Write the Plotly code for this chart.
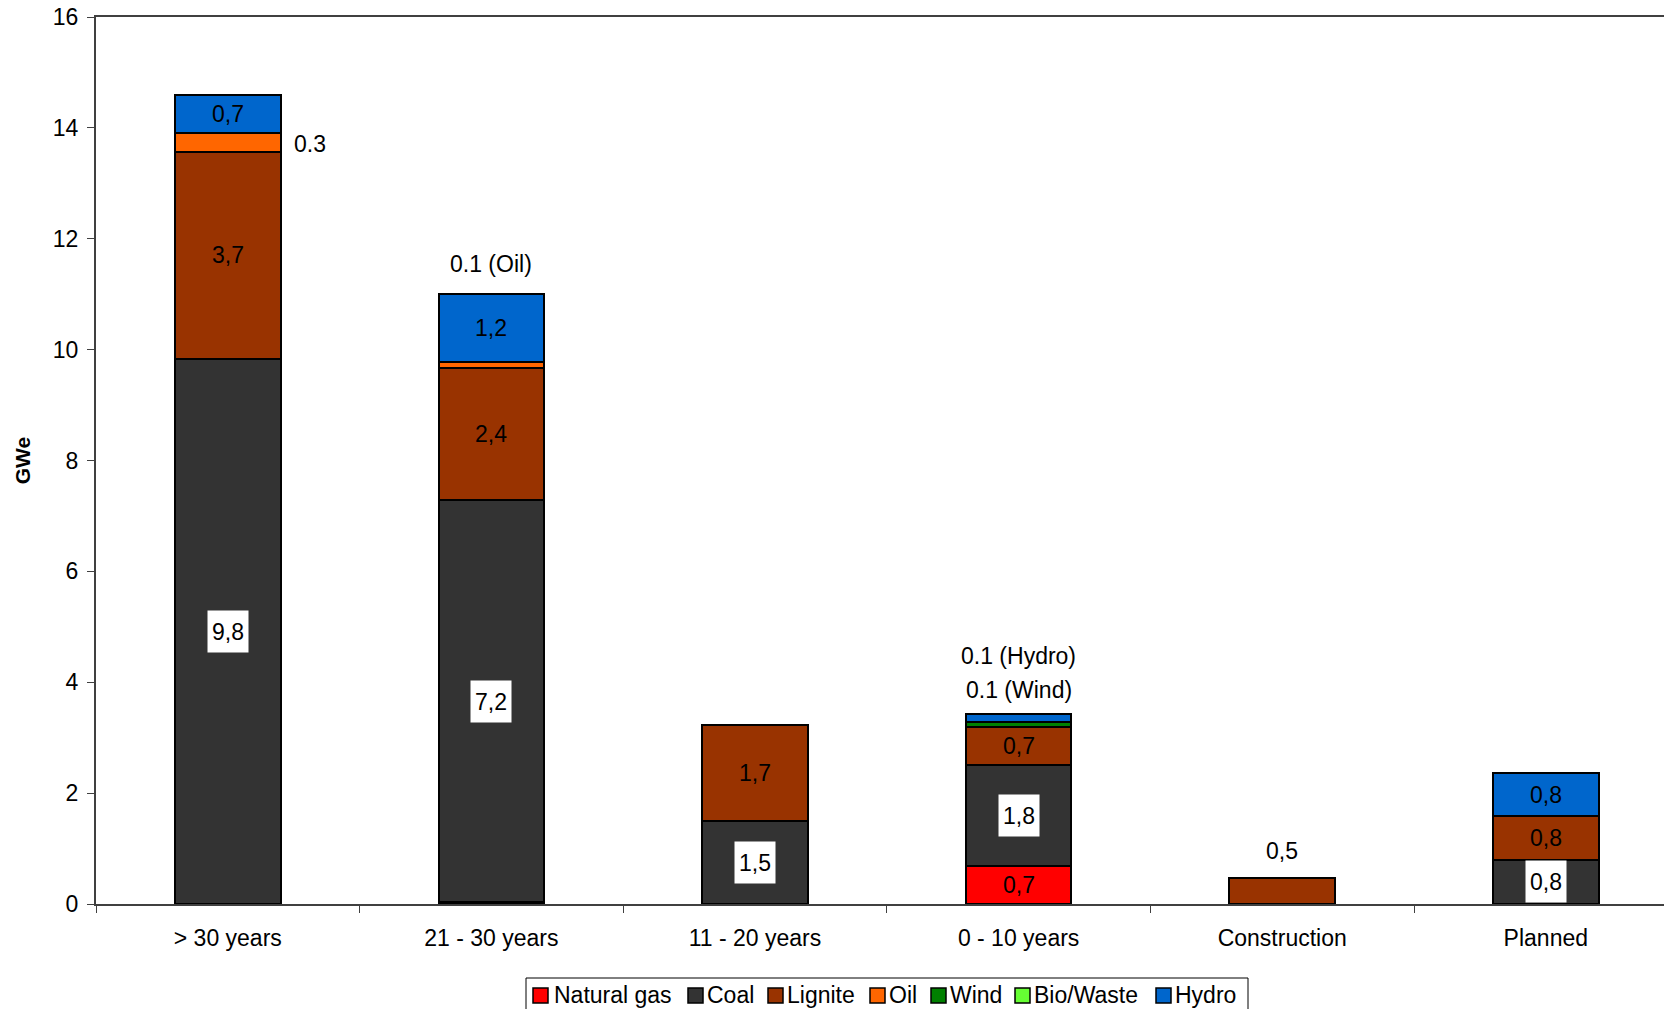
import plotly.graph_objects as go

# ---- data (GWe) -------------------------------------------------------------
categories = ["> 30 years", "21 - 30 years", "11 - 20 years",
              "0 - 10 years", "Construction", "Planned"]

natural_gas = [0, 0.04, 0, 0.69, 0, 0]
coal = [9.83, 7.24, 1.49, 1.82, 0, 0.80]
lignite = [3.74, 2.38, 1.73, 0.69, 0.47, 0.79]
oil = [0.34, 0.11, 0, 0, 0, 0]
wind = [0, 0, 0, 0.08, 0, 0]
bio_waste = [0, 0, 0, 0, 0, 0]
hydro = [0.69, 1.23, 0, 0.14, 0, 0.77]

series_names = ["Natural gas", "Coal", "Lignite", "Oil", "Wind", "Bio/Waste", "Hydro"]
y_ticks = [0, 2, 4, 6, 8, 10, 12, 14, 16]

# small segments annotated outside the bars: (category index, series, template, placement)
outside_notes = [
    (0, "Oil", "{:.1f}", "right"),
    (1, "Oil", "{:.1f} (Oil)", "above"),
    (3, "Wind", "{:.1f} (Wind)", "above"),
    (3, "Hydro", "{:.1f} (Hydro)", "above2"),
    (4, "Lignite", "{}", "above"),
]

# ---- styling ----------------------------------------------------------------
series_values = [natural_gas, coal, lignite, oil, wind, bio_waste, hydro]
colors = {
    "Natural gas": "#FF0000",
    "Coal": "#333333",
    "Lignite": "#993300",
    "Oil": "#FF6600",
    "Wind": "#008000",
    "Bio/Waste": "#66FF33",
    "Hydro": "#0066CC",
}
FONT = "Liberation Sans, Arial, sans-serif"
FS = 23
W, H = 1664, 1009
L, R, T, B = 96, 0, 17, 105
BAR_WIDTH = 0.4


def paper_x(px):
    return (px - L) / (W - L - R)


def paper_y(py):
    return (H - B - py) / (H - T - B)


def comma(v):
    return f"{v:.1f}".replace(".", ",")


fig = go.Figure()
for name, vals in zip(series_names, series_values):
    fig.add_trace(go.Bar(
        x=categories,
        y=[v if v else None for v in vals],
        name=name,
        width=BAR_WIDTH,
        marker=dict(color=colors[name], line=dict(color="#000000", width=2)),
        showlegend=False,
        hoverinfo="x+y+name",
    ))

annotations = []
shapes = []

# value labels centred in each segment
bases = [0.0] * len(categories)
mids = {}
for name, vals in zip(series_names, series_values):
    for i, v in enumerate(vals):
        mids[(i, name)] = (bases[i] + v / 2.0, v)
        bases[i] += v
totals = bases[:]

for name, vals in zip(series_names, series_values):
    for i, v in enumerate(vals):
        if v >= 0.5 and not (name == "Lignite" and categories[i] == "Construction"):
            y_mid = mids[(i, name)][0]
            a = dict(x=categories[i], y=y_mid, xref="x", yref="y",
                     text=comma(v), showarrow=False,
                     font=dict(family=FONT, size=FS, color="#000000"))
            if name == "Coal":
                a.update(bgcolor="#FFFFFF", width=40, height=41, borderpad=0)
            annotations.append(a)

for idx, name, tmpl, place in outside_notes:
    y_mid, v = mids[(idx, name)]
    text = tmpl.format(v) if "{:" in tmpl else comma(v)
    if place == "right":
        annotations.append(dict(x=idx + BAR_WIDTH / 2, y=y_mid, xref="x", yref="y",
                                xanchor="left", xshift=11, yshift=-2, text=text,
                                showarrow=False,
                                font=dict(family=FONT, size=FS, color="#000000")))
    else:
        shift = {"above": 30, "above2": 58}[place]
        if categories[idx] == "0 - 10 years" and place == "above":
            shift = 24
        if categories[idx] == "Construction":
            shift = 27
        annotations.append(dict(x=categories[idx], y=totals[idx], xref="x", yref="y",
                                yshift=shift, text=text, showarrow=False,
                                font=dict(family=FONT, size=FS, color="#000000")))

# legend box along the bottom edge
legend_square_x = [533, 688, 768, 870, 931, 1015, 1156]
legend_text_x = [553, 706, 786, 888, 949, 1033, 1174]
shapes.append(dict(type="rect", xref="paper", yref="paper",
                   x0=paper_x(526), x1=paper_x(1248), y0=paper_y(1040), y1=paper_y(978),
                   line=dict(color="#000000", width=1), fillcolor="#FFFFFF", layer="above"))
for name, sx, tx in zip(series_names, legend_square_x, legend_text_x):
    shapes.append(dict(type="rect", xref="paper", yref="paper",
                       x0=paper_x(sx), x1=paper_x(sx + 15),
                       y0=paper_y(1003), y1=paper_y(988),
                       line=dict(color="#000000", width=1.5), fillcolor=colors[name],
                       layer="above"))
    annotations.append(dict(x=paper_x(tx - 1), y=paper_y(995.5), xref="paper", yref="paper",
                            xanchor="left", yanchor="middle", text=name, showarrow=False,
                            font=dict(family=FONT, size=FS, color="#000000")))

fig.update_layout(
    barmode="stack",
    width=W, height=H,
    margin=dict(l=L, r=R, t=T, b=B, pad=0),
    paper_bgcolor="#FFFFFF",
    plot_bgcolor="#FFFFFF",
    font=dict(family=FONT, size=FS, color="#000000"),
    annotations=annotations,
    shapes=shapes,
    xaxis=dict(
        type="category",
        range=[-0.5, -0.5 + (W - L - R) / 263.6],
        showgrid=False, zeroline=False,
        showline=True, linecolor="#404040", linewidth=2, mirror=True,
        ticks="outside", tickson="boundaries", ticklen=7, tickcolor="#404040", tickwidth=1,
        ticklabelstandoff=12,
        tickfont=dict(family=FONT, size=FS, color="#000000"),
    ),
    yaxis=dict(
        range=[0, 16],
        tickvals=y_ticks,
        showgrid=False, zeroline=False,
        showline=True, linecolor="#404040", linewidth=2,
        ticks="outside", ticklen=7, tickcolor="#404040", tickwidth=1,
        ticklabelstandoff=4,
        tickfont=dict(family=FONT, size=FS, color="#000000"),
        title=dict(text="<b>GWe</b>", standoff=16,
                   font=dict(family="Liberation Sans Narrow, Arial Narrow, sans-serif",
                             size=21, color="#000000")),
    ),
)

fig.write_html("out.html")
